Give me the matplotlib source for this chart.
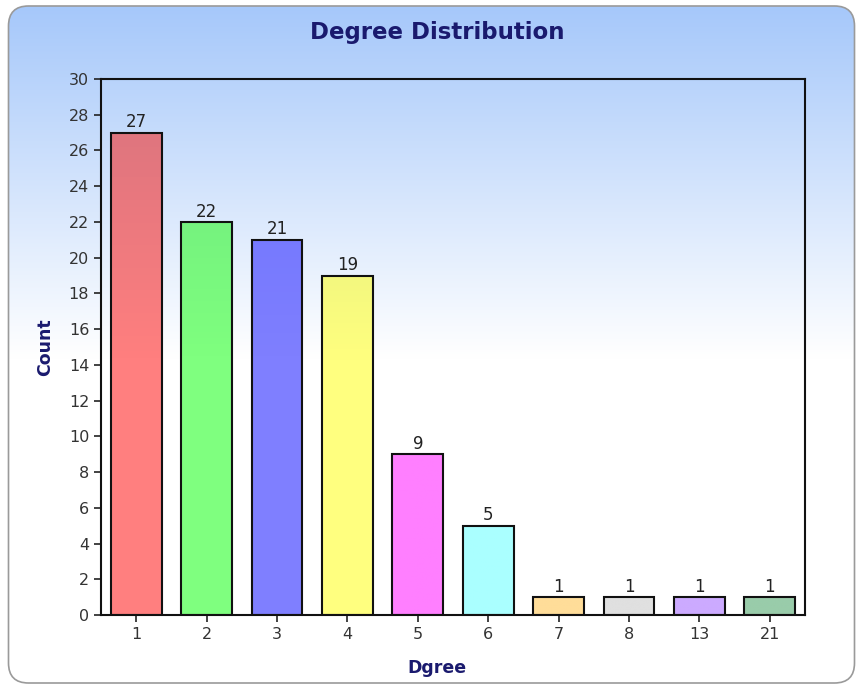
import numpy as np
import matplotlib
matplotlib.use("Agg")
import matplotlib.pyplot as plt
from matplotlib.patches import FancyBboxPatch
from matplotlib.colors import to_rgb

categories = ["1", "2", "3", "4", "5", "6", "7", "8", "13", "21"]
counts = [27, 22, 21, 19, 9, 5, 1, 1, 1, 1]
bar_colors = ["#FF7F7F", "#7FFF7F", "#7F7FFF", "#FFFF7F", "#FF7FFF",
              "#AAFFFF", "#FFDD99", "#E0E0E0", "#CCAAFF", "#99CCAA"]
title = "Degree Distribution"
xlabel = "Dgree"
ylabel = "Count"
yticks = list(range(0, 31, 2))

W, H = 857, 685
fig = plt.figure(figsize=(W / 100, H / 100), dpi=100)
fig.patch.set_facecolor("white")

TOP = np.array(to_rgb("#A6C8FA"))
WHITE = np.array([1.0, 1.0, 1.0])
PY0, PY1 = 6, 683


def bg_color(ypix):
    t = np.clip(((np.asarray(ypix) - PY0) / (PY1 - PY0)) / 0.52, 0, 1)[..., None]
    return TOP * (1 - t) + WHITE * t


# background panel with gradient
bg = fig.add_axes([0, 0, 1, 1], zorder=0)
bg.set_xlim(0, W)
bg.set_ylim(H, 0)
bg.axis("off")
ys = np.linspace(PY0, PY1, 256)
img = bg_color(ys)[:, None, :]
panel = FancyBboxPatch((8.5, PY0), 846, PY1 - PY0, boxstyle="round,pad=0,rounding_size=20",
                       facecolor="none", edgecolor="#9A9A9A", linewidth=1.2, zorder=3)
bg.add_patch(panel)
im = bg.imshow(img, extent=(8.5, 854.5, PY1, PY0), aspect="auto", zorder=1)
im.set_clip_path(panel)

AX_T, AX_B = 79, 615
ax = fig.add_axes([101 / W, 1 - AX_B / H, (805 - 101) / W, (AX_B - AX_T) / H], zorder=2)
ax.patch.set_alpha(0)
ymax = 30
x = np.arange(len(categories))
bars = ax.bar(x, counts, width=0.72, color="none", edgecolor="#111111", linewidth=1.5, zorder=3)
for b, c, v in zip(bars, bar_colors, counts):
    base = np.array(to_rgb(c))
    x0, y0 = b.get_x(), b.get_y()
    w, h = b.get_width(), b.get_height()
    vals = np.linspace(h, 0, 64)  # top to bottom
    ypix = AX_B - vals / ymax * (AX_B - AX_T)
    tint = 0.45 + 0.55 * bg_color(ypix)
    g = (base[None, :] * tint)[:, None, :]
    gi = ax.imshow(g, extent=(x0, x0 + w, y0, y0 + h), aspect="auto", zorder=2, origin="upper")
    gi.set_clip_path(b)
    ax.text(x0 + w / 2, h + 0.08, str(v), ha="center", va="bottom",
            fontsize=12, color="#222222")

ax.set_xlim(-0.5, len(categories) - 0.5)
ax.set_ylim(0, ymax)
ax.set_xticks(x)
ax.set_xticklabels(categories)
ax.set_yticks(yticks)
ax.tick_params(axis="both", labelsize=11.5, labelcolor="#333333", length=5, width=1.2, color="#222222")
for s in ax.spines.values():
    s.set_color("#111111")
    s.set_linewidth(1.5)
ax.set_xlabel(xlabel, fontsize=12.5, fontweight="bold", color="#1A1A6E")
ax.set_ylabel(ylabel, fontsize=12.5, fontweight="bold", color="#1A1A6E")
ax.xaxis.set_label_coords((437 - 101) / (805 - 101), -(659 - 615) / (615 - 79))
ax.yaxis.set_label_coords(-(101 - 54) / (805 - 101), 0.5)
fig.text(437 / W, 1 - 32 / H, title, ha="center", va="center", fontsize=16.5,
         fontweight="bold", color="#1A1A6E")

fig.savefig("out.png", dpi=100)
